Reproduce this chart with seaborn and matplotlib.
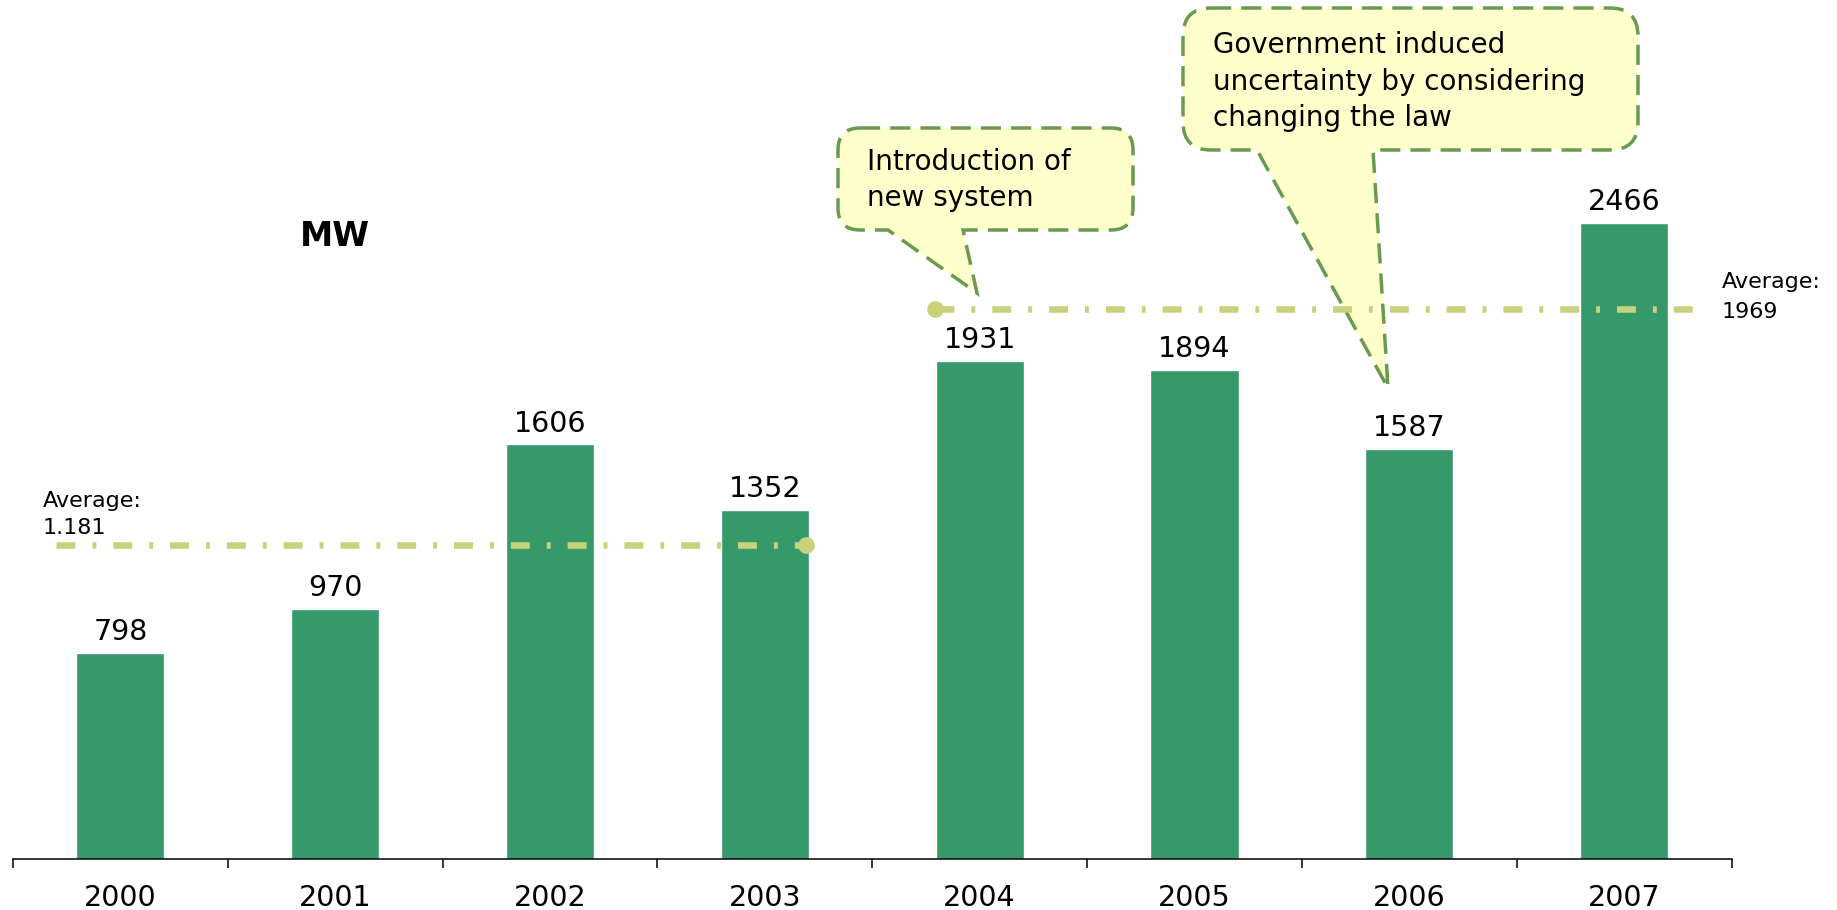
import matplotlib
matplotlib.use("Agg")
import numpy as np
import pandas as pd
import matplotlib.pyplot as plt
import seaborn as sns
from matplotlib.path import Path
from matplotlib.patches import PathPatch

# ---- data ----
years = ["2000", "2001", "2002", "2003", "2004", "2005", "2006", "2007"]
mw = [798, 970, 1606, 1352, 1931, 1894, 1587, 2466]
avg_text = [["Average:", "1.181"], ["Average:", "1969"]]
avg_levels = [1216, 2131]          # heights at which the average lines are drawn in the picture
callout1_lines = ["Introduction of", "new system"]
callout2_lines = ["Government induced", "uncertainty by considering", "changing the law"]
unit_label = "MW"

BAR = "#35996a"
AVG = "#c9d17c"
EDGE = "#6a9a50"
FILL = "#ffffcc"

W, H = 1837, 910

sns.set_theme(style="white")
plt.rcParams['font.family'] = ['DejaVu Sans']
plt.rcParams['text.color'] = 'black'
plt.rcParams['xtick.color'] = 'black'
plt.rcParams['axes.labelcolor'] = 'black'

fig = plt.figure(figsize=(W / 100, H / 100), dpi=100)
fig.patch.set_facecolor("white")
ax = fig.add_axes([12.9 / W, 51.2 / H, (1731.6 - 12.9) / W, (H - 51.2) / H])
ax.patch.set_alpha(0)

df = pd.DataFrame({"year": years, "mw": mw})
sns.barplot(data=df, x="year", y="mw", color=BAR, saturation=1, width=0.41, ax=ax, zorder=2)
ax.set_xlim(-0.5, 7.5)
ax.set_ylim(0, 3329)
ax.bar_label(ax.containers[0], padding=5, fontsize=20.5, color="black")

for s in ["top", "left", "right"]:
    ax.spines[s].set_visible(False)
ax.spines["bottom"].set_color("black")
ax.spines["bottom"].set_linewidth(1.1)
ax.set_yticks([])
ax.set_xlabel("")
ax.set_ylabel("")
ax.tick_params(axis="x", which="major", length=0, pad=18, labelsize=20.5, labelcolor="black")
ax.set_xticks(np.arange(-0.5, 8, 1), minor=True)
ax.tick_params(axis="x", which="minor", length=6.5, width=1.1, direction="out",
               color="black", bottom=True)

# ---- average lines ----
spans = [(-0.30, 3.19), (3.79, 7.33)]
dot_ends = [1, 0]
for (x0, x1), lvl, de in zip(spans, avg_levels, dot_ends):
    ax.plot([x0, x1], [lvl, lvl], color=AVG, lw=4.7, dashes=[2.9, 2.6, 0.6, 2.6],
            clip_on=False, zorder=3)
    ax.plot([(x0, x1)[de]], [lvl], "o", ms=11, color=AVG, clip_on=False, zorder=3)


def px(x, y):
    return (x / W, 1 - y / H)


fig.text(*px(43, 501), avg_text[0][0], fontsize=16, va="center", ha="left", color="black")
fig.text(*px(43, 528), avg_text[0][1], fontsize=16, va="center", ha="left", color="black")
fig.text(*px(1722, 282), avg_text[1][0], fontsize=16, va="center", ha="left", color="black")
fig.text(*px(1722, 312), avg_text[1][1], fontsize=16, va="center", ha="left", color="black")

fig.text(*px(335, 237), unit_label, fontsize=24, fontweight="bold", va="center",
         ha="center", color="black")


# ---- callouts ----
def callout(x0, y0, x1, y1, r, tl, tr, tip):
    pts = [
        ((x0 + r, y0), Path.MOVETO),
        ((x1 - r, y0), Path.LINETO),
        ((x1, y0), Path.CURVE3), ((x1, y0 + r), Path.CURVE3),
        ((x1, y1 - r), Path.LINETO),
        ((x1, y1), Path.CURVE3), ((x1 - r, y1), Path.CURVE3),
        ((tr, y1), Path.LINETO),
        (tip, Path.LINETO),
        ((tl, y1), Path.LINETO),
        ((x0 + r, y1), Path.LINETO),
        ((x0, y1), Path.CURVE3), ((x0, y1 - r), Path.CURVE3),
        ((x0, y0 + r), Path.LINETO),
        ((x0, y0), Path.CURVE3), ((x0 + r, y0), Path.CURVE3),
        ((x0 + r, y0), Path.CLOSEPOLY),
    ]
    verts = [px(*p) for p, _ in pts]
    codes = [c for _, c in pts]
    patch = PathPatch(Path(verts, codes), facecolor=FILL, edgecolor=EDGE, lw=2.5,
                      linestyle=(0, (5.8, 2.9)), transform=fig.transFigure,
                      clip_on=False, zorder=1)
    ax.add_patch(patch)


callout(838, 128, 1133, 230, 22, 888, 963, (977, 293))
callout(1183, 8, 1638, 150, 28, 1257, 1373, (1388, 388))

for i, t in enumerate(callout1_lines):
    fig.text(*px(867, 162 + 36 * i), t, fontsize=20, va="center", ha="left", color="black")
for i, t in enumerate(callout2_lines):
    fig.text(*px(1213, 45 + 36.5 * i), t, fontsize=20, va="center", ha="left", color="black")

fig.savefig("out.png", dpi=100, facecolor="white")
